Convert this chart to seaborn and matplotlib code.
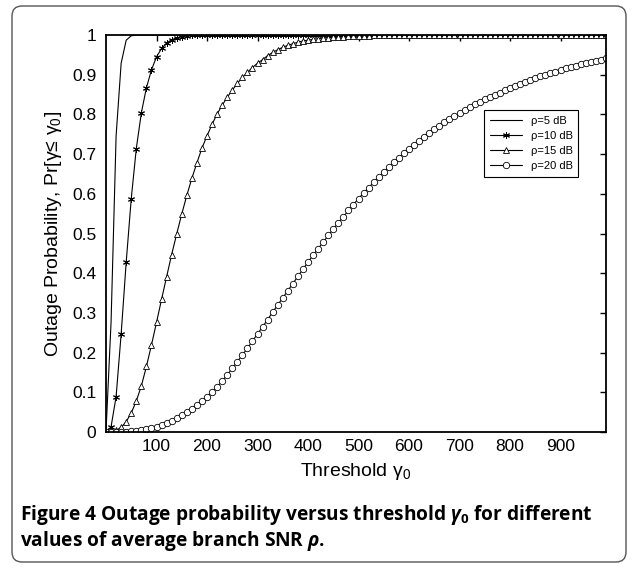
import numpy as np
import matplotlib
matplotlib.use("Agg")
import matplotlib.pyplot as plt
import seaborn as sns
from matplotlib.patches import FancyBboxPatch
from matplotlib.transforms import IdentityTransform

# threshold grid gamma_0 (one marker every 10 units)
threshold = np.arange(0, 1000, 10)

p_5db = [0, 0.276, 0.746, 0.929, 0.987, 0.998, 0.9998, 1.0, 1.0, 1.0,
         1.0, 1.0, 1.0, 1.0, 1.0, 1.0, 1.0, 1.0, 1.0, 1.0,
         1.0, 1.0, 1.0, 1.0, 1.0, 1.0, 1.0, 1.0, 1.0, 1.0,
         1.0, 1.0, 1.0, 1.0, 1.0, 1.0, 1.0, 1.0, 1.0, 1.0,
         1.0, 1.0, 1.0, 1.0, 1.0, 1.0, 1.0, 1.0, 1.0, 1.0,
         1.0, 1.0, 1.0, 1.0, 1.0, 1.0, 1.0, 1.0, 1.0, 1.0,
         1.0, 1.0, 1.0, 1.0, 1.0, 1.0, 1.0, 1.0, 1.0, 1.0,
         1.0, 1.0, 1.0, 1.0, 1.0, 1.0, 1.0, 1.0, 1.0, 1.0,
         1.0, 1.0, 1.0, 1.0, 1.0, 1.0, 1.0, 1.0, 1.0, 1.0,
         1.0, 1.0, 1.0, 1.0, 1.0, 1.0, 1.0, 1.0, 1.0, 1.0]

p_10db = [0, 0.013, 0.089, 0.247, 0.428, 0.588, 0.714, 0.804, 0.867, 0.912,
          0.945, 0.966, 0.980, 0.988, 0.993, 0.996, 0.998, 0.999, 0.9994, 0.9996,
          0.9998, 0.9999, 0.9999, 1.0, 1.0, 1.0, 1.0, 1.0, 1.0, 1.0,
          1.0, 1.0, 1.0, 1.0, 1.0, 1.0, 1.0, 1.0, 1.0, 1.0,
          1.0, 1.0, 1.0, 1.0, 1.0, 1.0, 1.0, 1.0, 1.0, 1.0,
          1.0, 1.0, 1.0, 1.0, 1.0, 1.0, 1.0, 1.0, 1.0, 1.0,
          1.0, 1.0, 1.0, 1.0, 1.0, 1.0, 1.0, 1.0, 1.0, 1.0,
          1.0, 1.0, 1.0, 1.0, 1.0, 1.0, 1.0, 1.0, 1.0, 1.0,
          1.0, 1.0, 1.0, 1.0, 1.0, 1.0, 1.0, 1.0, 1.0, 1.0,
          1.0, 1.0, 1.0, 1.0, 1.0, 1.0, 1.0, 1.0, 1.0, 1.0]

p_15db = [0, 0.0006, 0.004, 0.0115, 0.026, 0.048, 0.078, 0.116, 0.165, 0.219,
          0.276, 0.334, 0.391, 0.447, 0.499, 0.549, 0.596, 0.639, 0.678, 0.715,
          0.746, 0.775, 0.801, 0.823, 0.843, 0.861, 0.878, 0.893, 0.906, 0.918,
          0.929, 0.938, 0.948, 0.956, 0.963, 0.969, 0.974, 0.978, 0.982, 0.985,
          0.987, 0.989, 0.991, 0.992, 0.993, 0.994, 0.995, 0.996, 0.997, 0.9975,
          0.998, 0.9984, 0.9987, 0.999, 0.9992, 0.9994, 0.9995, 0.9996, 0.9997, 0.9998,
          0.9998, 0.9998, 0.9999, 0.9999, 0.9999, 0.9999, 0.9999, 1.0, 1.0, 1.0,
          1.0, 1.0, 1.0, 1.0, 1.0, 1.0, 1.0, 1.0, 1.0, 1.0,
          1.0, 1.0, 1.0, 1.0, 1.0, 1.0, 1.0, 1.0, 1.0, 1.0,
          1.0, 1.0, 1.0, 1.0, 1.0, 1.0, 1.0, 1.0, 1.0, 1.0]

p_20db = [0, 0.0000, 0.0002, 0.0005, 0.001, 0.002, 0.0035, 0.0055, 0.0075, 0.010,
          0.013, 0.017, 0.022, 0.028, 0.035, 0.042, 0.050, 0.059, 0.068, 0.078,
          0.089, 0.101, 0.114, 0.128, 0.144, 0.160, 0.177, 0.194, 0.211, 0.229,
          0.247, 0.265, 0.283, 0.302, 0.320, 0.338, 0.356, 0.374, 0.392, 0.410,
          0.428, 0.445, 0.462, 0.478, 0.495, 0.511, 0.527, 0.542, 0.558, 0.573,
          0.588, 0.602, 0.615, 0.629, 0.642, 0.655, 0.667, 0.679, 0.691, 0.703,
          0.714, 0.724, 0.734, 0.744, 0.754, 0.763, 0.771, 0.780, 0.788, 0.796,
          0.804, 0.811, 0.818, 0.825, 0.832, 0.838, 0.844, 0.850, 0.855, 0.861,
          0.867, 0.872, 0.877, 0.882, 0.887, 0.891, 0.896, 0.900, 0.904, 0.908,
          0.912, 0.916, 0.919, 0.923, 0.926, 0.929, 0.932, 0.935, 0.938, 0.941]

series_labels = ["ρ=5 dB", "ρ=10 dB", "ρ=15 dB", "ρ=20 dB"]
x_ticks = [100, 200, 300, 400, 500, 600, 700, 800, 900]
y_ticks = [0, 0.1, 0.2, 0.3, 0.4, 0.5, 0.6, 0.7, 0.8, 0.9, 1]
y_tick_labels = ["0", "0.1", "0.2", "0.3", "0.4", "0.5", "0.6", "0.7", "0.8", "0.9", "1"]

sns.set_theme(style="white")
plt.rcParams["font.family"] = ["Liberation Sans", "DejaVu Sans"]
plt.rcParams["text.color"] = "black"
plt.rcParams["axes.labelcolor"] = "black"
plt.rcParams["mathtext.fontset"] = "custom"
plt.rcParams["mathtext.rm"] = "Liberation Sans"
plt.rcParams["mathtext.it"] = "Open Sans:italic:bold"
plt.rcParams["mathtext.bf"] = "Open Sans:bold"

fig = plt.figure(figsize=(6.34, 5.68), dpi=100)
ax = fig.add_axes([106 / 634, 1 - 432 / 568, 500 / 634, 397 / 568])

styles = [
    dict(marker=None),
    dict(marker=(6, 2, 0), ms=5, mec="black", mew=0.7),
    dict(marker="^", ms=5, mfc="white", mec="black", mew=0.6),
    dict(marker="o", ms=4.6, mfc="white", mec="black", mew=0.6),
]
for vals, lab, st in zip([p_5db, p_10db, p_15db, p_20db], series_labels, styles):
    sns.lineplot(x=threshold, y=vals, ax=ax, color="black", lw=0.8,
                 label=lab, errorbar=None, **st)

ax.set_xlim(0, 990)
ax.set_ylim(0, 1)
ax.set_xticks(x_ticks)
ax.set_yticks(y_ticks)
ax.set_yticklabels(y_tick_labels)
ax.tick_params(direction="in", top=True, right=True, length=4.5, width=1,
               labelsize=12.5, colors="black", pad=5)
ax.tick_params(axis="y", pad=7)
for s in ax.spines.values():
    s.set_linewidth(1.3)
    s.set_color("black")

ax.set_xlabel(r"Threshold $\mathrm{\gamma_0}$", fontsize=14, labelpad=5)
ax.set_ylabel(r"Outage Probability, Pr[$\mathrm{\gamma}$≤ $\mathrm{\gamma_0}$]",
              fontsize=14, labelpad=6)

leg = ax.legend(loc="upper right", bbox_to_anchor=(0.956, 0.824), fontsize=8,
                frameon=True, fancybox=False, framealpha=1, edgecolor="black",
                handlelength=2.9, borderpad=0.5, labelspacing=0.45)
leg.get_frame().set_linewidth(0.8)

# caption
cap_kw = dict(fontsize=13.8, fontweight="bold", family="Open Sans", va="center",
              color="black")
fig.text(20 / 634, 1 - 515 / 568,
         r"Figure 4 Outage probability versus threshold $\gamma_\mathbf{0}$ for different",
         **cap_kw)
fig.text(20 / 634, 1 - 541 / 568, r"values of average branch SNR $\rho$.", **cap_kw)

# rounded frame around the whole figure
frame = FancyBboxPatch((12, 6), 614, 556, boxstyle="round,pad=0,rounding_size=10",
                       transform=IdentityTransform(), fill=False,
                       edgecolor="#555555", linewidth=1)
fig.add_artist(frame)

fig.savefig("out.png", dpi=100)
